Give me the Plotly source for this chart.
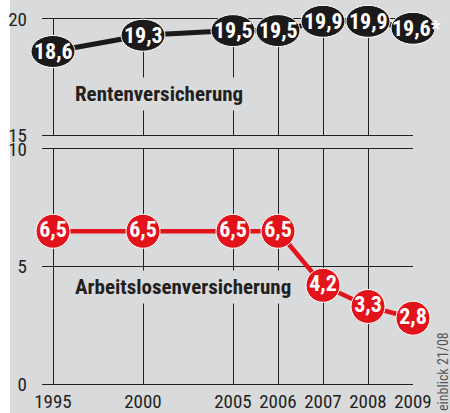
import plotly.graph_objects as go

# ---------------- data ----------------
years = ["1995", "2000", "2005", "2006", "2007", "2008", "2009"]
year_nums = [1995, 2000, 2005, 2006, 2007, 2008, 2009]
rente = [18.6, 19.3, 19.5, 19.5, 19.9, 19.9, 19.6]
rente_suffix = ["", "", "", "", "", "", "*"]
arbeit = [6.5, 6.5, 6.5, 6.5, 4.2, 3.3, 2.8]
top_ticks = [15, 20]
bot_ticks = [0, 5, 10]
label_top = "Rentenversicherung"
label_bot = "Arbeitslosenversicherung"
source = "einblick 21/08"
title_fragment = "Beitragsentwicklung (in Prozent des Lohns)"

# ---------------- layout constants ----------------
W, H = 450, 413
X0_PX, SLOT_PX, XL_PX = 53, 45, 42
T_HI_PX, T_LO_PX = 19, 135     # y=20, y=15
B_HI_PX, B_LO_PX = 149, 384    # y=10, y=0
SPLIT_PX = 142

FONT = "Liberation Sans Narrow, Roboto Condensed, DejaVu Sans Condensed, Arial Narrow, sans-serif"
BG = "#d9dadb"
INK = "#231f20"
RED = "#e3131b"
BLACK = "#1c191a"

def fmt(v):
    return ("%.1f" % v).replace(".", ",")

# category slots: 5-year gaps take two slots, single years one slot
slots = [0]
for i in range(1, len(year_nums)):
    slots.append(slots[-1] + (2 if year_nums[i] - year_nums[i - 1] > 1 else 1))

def pyf(p):
    return 1 - p / H

def pxf(p):
    return p / W

def slot_at(p):
    return (p - X0_PX) / SLOT_PX

top_lo, top_hi = min(top_ticks), max(top_ticks)
bot_lo, bot_hi = min(bot_ticks), max(bot_ticks)

def top_val(p):
    return top_hi - (p - T_HI_PX) * (top_hi - top_lo) / (T_LO_PX - T_HI_PX)

fig = go.Figure()

# black line (Rentenversicherung)
fig.add_trace(go.Scatter(
    x=slots, y=rente, mode="lines", xaxis="x", yaxis="y",
    line=dict(color=BLACK, width=5), cliponaxis=False, hoverinfo="skip",
    showlegend=False,
))
# red line + circles (Arbeitslosenversicherung)
fig.add_trace(go.Scatter(
    x=slots, y=arbeit, mode="lines+markers+text", xaxis="x2", yaxis="y2",
    line=dict(color=RED, width=4.5),
    marker=dict(size=34, color=RED, line=dict(color="white", width=1)),
    text=[fmt(v) for v in arbeit], textposition="middle center",
    textfont=dict(family=FONT, size=22, color="white", weight="bold"),
    cliponaxis=False, hoverinfo="skip", showlegend=False,
))
# invisible overlay trace to create x3/y3 subplot
fig.add_trace(go.Scatter(x=slots, y=rente, mode="none", xaxis="x3", yaxis="y3",
                         showlegend=False, hoverinfo="skip"))

grid = dict(showgrid=True, gridcolor=INK, gridwidth=1.3, zeroline=False, ticks="")
xline = dict(showline=True, mirror=True, linecolor=INK, linewidth=1.3)
x_range = [slot_at(XL_PX), slots[-1]]
tickfont = dict(family=FONT, size=19, color=INK, weight="normal")
fig.update_layout(
    width=W, height=H, margin=dict(l=0, r=0, t=0, b=0, autoexpand=False),
    paper_bgcolor="white", plot_bgcolor="rgba(0,0,0,0)",
    xaxis=dict(domain=[pxf(XL_PX), pxf(X0_PX + SLOT_PX * slots[-1])], range=x_range,
               tickvals=slots, showticklabels=False, anchor="y", **grid, **xline),
    yaxis=dict(domain=[pyf(T_LO_PX), pyf(T_HI_PX)], range=[top_lo, top_hi],
               tickvals=top_ticks, anchor="x", ticklabelstandoff=14, showline=False,
               tickfont=tickfont, **grid),
    xaxis2=dict(domain=[pxf(XL_PX), pxf(X0_PX + SLOT_PX * slots[-1])], range=x_range,
                tickvals=slots, ticktext=years, anchor="y2", ticklabelstandoff=0,
                tickfont=tickfont, **grid, **xline),
    yaxis2=dict(domain=[pyf(B_LO_PX), pyf(B_HI_PX)], range=[bot_lo, bot_hi],
                tickvals=bot_ticks, anchor="x2", ticklabelstandoff=14, showline=False,
                tickfont=tickfont, **grid),
    xaxis3=dict(domain=[0, 1], range=[slot_at(0), slot_at(W)], visible=False, anchor="y3"),
    yaxis3=dict(domain=[pyf(SPLIT_PX), 1], range=[top_val(SPLIT_PX), top_val(0)],
                visible=False, anchor="x3"),
)

shapes = [dict(type="rect", xref="paper", yref="paper", x0=pxf(10), x1=1, y0=0, y1=1,
               fillcolor=BG, line=dict(width=0), layer="below")]
for s, v in zip(slots, rente):
    shapes.append(dict(type="circle", xref="x3", yref="y3",
                       xsizemode="pixel", xanchor=s, x0=-22, x1=22,
                       ysizemode="pixel", yanchor=v, y0=-16, y1=16,
                       fillcolor=BLACK, line=dict(color="white", width=1), layer="above"))
fig.update_layout(shapes=shapes)

ann = []
for s, v, suf in zip(slots, rente, rente_suffix):
    ann.append(dict(x=s, y=v, xref="x3", yref="y3", text=fmt(v) + suf, showarrow=False,
                    xshift=3 if suf else 0, xanchor="center", yanchor="middle",
                    font=dict(family=FONT, size=22, color="white", weight="bold")))
ann.append(dict(x=pxf(159), y=pyf(94), xref="paper", yref="paper", text=label_top,
                showarrow=False, bgcolor=BG, borderpad=4, xanchor="center", yanchor="middle",
                font=dict(family=FONT, size=21, color=INK, weight="bold")))
ann.append(dict(x=pxf(183), y=pyf(287), xref="paper", yref="paper", text=label_bot,
                showarrow=False, bgcolor=BG, borderpad=4, xanchor="center", yanchor="middle",
                font=dict(family=FONT, size=21, color=INK, weight="bold")))
ann.append(dict(x=pxf(443), y=pyf(372), xref="paper", yref="paper", text=source,
                showarrow=False, textangle=-90, xanchor="center", yanchor="middle",
                font=dict(family=FONT, size=14, color="#555555")))
ann.append(dict(x=pxf(233), y=pyf(3), xref="paper", yref="paper", text=title_fragment,
                showarrow=False, xanchor="right", yanchor="bottom",
                font=dict(family=FONT, size=19, color=INK)))
fig.update_layout(annotations=ann)

fig.write_html(
    "out.html",
    config={"displayModeBar": False},
    post_script="document.body.style.margin='0';document.body.style.overflow='hidden';",
)
